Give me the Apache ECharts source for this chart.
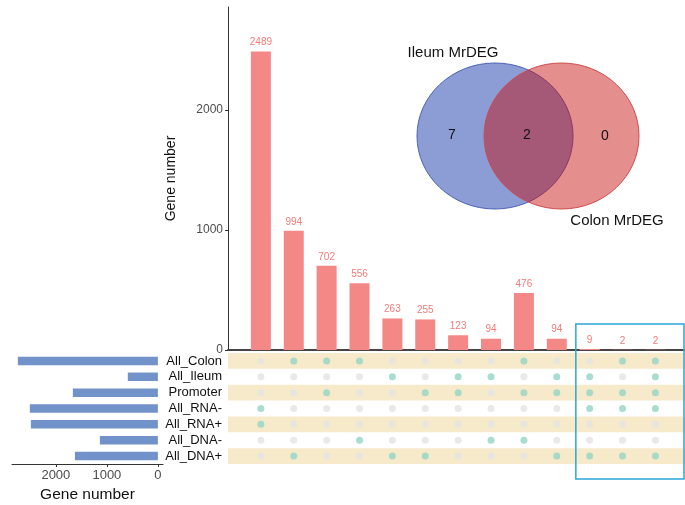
<!DOCTYPE html>
<html>
<head>
<meta charset="utf-8">
<script src="https://cdn.jsdelivr.net/npm/echarts@6/dist/echarts.min.js"></script>
<style>
html,body{margin:0;padding:0;background:#fff}
#main{width:685px;height:505px}
</style>
</head>
<body>
<div id="main"></div>
<script>
var FONT = 'Liberation Sans, Arial, sans-serif';

// sets (rows of the matrix) and their sizes
var setNames = ['All_Colon', 'All_Ileum', 'Promoter', 'All_RNA-', 'All_RNA+', 'All_DNA-', 'All_DNA+'];
var setSizes = [2745, 590, 1667, 2510, 2490, 1137, 1627];
var setTicks = [0, 1000, 2000];

// intersections (columns)
var intersectionSizes = [2489, 994, 702, 556, 263, 255, 123, 94, 476, 94, 9, 2, 2];
var intersectionMembers = [
    ['All_RNA-', 'All_RNA+'],
    ['All_Colon', 'All_DNA+'],
    ['All_Colon', 'Promoter'],
    ['All_Colon', 'All_DNA-'],
    ['All_Ileum', 'All_DNA+'],
    ['Promoter', 'All_DNA+'],
    ['All_Ileum', 'Promoter'],
    ['All_Ileum', 'All_DNA-'],
    ['All_Colon', 'Promoter', 'All_DNA-'],
    ['All_Ileum', 'Promoter', 'All_DNA+'],
    ['All_Ileum', 'Promoter', 'All_RNA-', 'All_DNA+'],
    ['All_Colon', 'Promoter', 'All_RNA-', 'All_DNA+'],
    ['All_Colon', 'All_Ileum', 'Promoter', 'All_RNA-', 'All_DNA+']
];
var countTicks = [0, 1000, 2000];

// venn inset
var vennNames = ['Ileum MrDEG', 'Colon MrDEG'];
var vennCounts = [7, 2, 0]; // ileum only, both, colon only

// striped rows in the matrix
var stripeRows = [1, 0, 1, 0, 1, 0, 1];

var barData = intersectionSizes.map(function (v, i) { return [i, v]; });
var onDots = [], offDots = [];
for (var i = 0; i < intersectionMembers.length; i++) {
    for (var j = 0; j < setNames.length; j++) {
        if (intersectionMembers[i].indexOf(setNames[j]) >= 0) onDots.push([i, setNames[j]]);
        else offDots.push([i, setNames[j]]);
    }
}
var plain = function (v) { return String(v); };

var chart = echarts.init(document.getElementById('main'));
var option = {
    animation: false,
    backgroundColor: '#fff',
    textStyle: { fontFamily: FONT },
    grid: [
        { left: 228, top: 7, width: 457, height: 343 },
        { left: 228, top: 353, width: 457, height: 111 },
        { left: 12, top: 353, width: 151, height: 111 }
    ],
    xAxis: [
        {
            gridIndex: 0, type: 'value', min: -1, max: 12.9,
            axisLine: { show: true, onZero: false, lineStyle: { color: '#444', width: 2 } },
            axisTick: { show: false }, axisLabel: { show: false }, splitLine: { show: false }
        },
        {
            gridIndex: 1, type: 'value', min: -1, max: 12.9, show: false
        },
        {
            gridIndex: 1, type: 'value', min: 0, max: 1, show: false, position: 'top'
        },
        {
            gridIndex: 2, type: 'value', min: -100, max: 2860, inverse: true,
            name: 'Gene number', nameLocation: 'middle', nameGap: 23,
            nameTextStyle: { fontSize: 15.5, color: '#111', fontFamily: FONT },
            axisLine: { show: true, onZero: false, lineStyle: { color: '#333', width: 1 } },
            axisTick: { show: true, length: 3, customValues: setTicks, lineStyle: { color: '#333' } },
            axisLabel: { customValues: setTicks, formatter: plain, fontSize: 13, color: '#4d4d4d', margin: 5, fontFamily: FONT },
            splitLine: { show: false }
        }
    ],
    yAxis: [
        {
            gridIndex: 0, type: 'value', min: 0, max: 2860,
            name: 'Gene number', nameLocation: 'middle', nameGap: 50,
            nameTextStyle: { fontSize: 14, color: '#111', fontFamily: FONT },
            axisLine: { show: true, onZero: false, lineStyle: { color: '#333', width: 1 } },
            axisTick: { show: true, length: 3, customValues: countTicks, lineStyle: { color: '#333' } },
            axisLabel: { customValues: countTicks, formatter: plain, fontSize: 12, color: '#4d4d4d', margin: 5, fontFamily: FONT },
            splitLine: { show: false }
        },
        {
            gridIndex: 1, type: 'category', data: setNames, inverse: true,
            axisLine: { show: false }, axisTick: { show: false },
            axisLabel: { interval: 0, fontSize: 13, color: '#111', margin: 6, fontFamily: FONT }
        },
        {
            gridIndex: 2, type: 'category', data: setNames, inverse: true, show: false
        }
    ],
    series: [
        {
            type: 'bar', xAxisIndex: 0, yAxisIndex: 0, data: barData, barWidth: 20,
            itemStyle: { color: '#f48886' },
            label: { show: true, position: 'top', distance: 4, fontSize: 10, color: '#f27c7a', fontFamily: FONT,
                formatter: function (p) { return p.value[1]; } }
        },
        {
            type: 'bar', xAxisIndex: 2, yAxisIndex: 1, data: stripeRows, barWidth: '100%',
            itemStyle: { color: '#f7eacb' }, silent: true, z: 1
        },
        {
            type: 'scatter', xAxisIndex: 1, yAxisIndex: 1, data: offDots, symbolSize: 7,
            itemStyle: { color: '#e3e3e3' }, z: 3
        },
        {
            type: 'scatter', xAxisIndex: 1, yAxisIndex: 1, data: onDots, symbolSize: 7,
            itemStyle: { color: '#93d5c6' }, z: 4
        },
        {
            type: 'bar', xAxisIndex: 3, yAxisIndex: 2, data: setSizes, barWidth: 8.5,
            itemStyle: { color: '#7293ca' }
        }
    ]
};
chart.setOption(option);

// venn inset + highlight box
var boxLeft = chart.convertToPixel({ xAxisIndex: 1 }, 9.58);
chart.setOption({
    graphic: [
        { type: 'ellipse', shape: { cx: 495, cy: 136, rx: 78, ry: 73 },
          style: { fill: '#8b9dd4', stroke: '#4b62b6', lineWidth: 1 }, z: 10 },
        { type: 'ellipse', shape: { cx: 561.5, cy: 136, rx: 77.5, ry: 73 },
          style: { fill: 'rgba(196,8,8,0.46)', stroke: '#cf4a4a', lineWidth: 1 }, z: 11 },
        { type: 'text', x: 453, y: 53, z: 12,
          style: { text: vennNames[0], fontSize: 15, fontFamily: FONT, fill: '#111', align: 'center', verticalAlign: 'middle' } },
        { type: 'text', x: 617, y: 221, z: 12,
          style: { text: vennNames[1], fontSize: 15, fontFamily: FONT, fill: '#111', align: 'center', verticalAlign: 'middle' } },
        { type: 'text', x: 452, y: 135, z: 12,
          style: { text: String(vennCounts[0]), fontSize: 14, fontFamily: FONT, fill: '#111', align: 'center', verticalAlign: 'middle' } },
        { type: 'text', x: 527, y: 135, z: 12,
          style: { text: String(vennCounts[1]), fontSize: 14, fontFamily: FONT, fill: '#111', align: 'center', verticalAlign: 'middle' } },
        { type: 'text', x: 605, y: 136, z: 12,
          style: { text: String(vennCounts[2]), fontSize: 14, fontFamily: FONT, fill: '#111', align: 'center', verticalAlign: 'middle' } },
        { type: 'rect', shape: { x: boxLeft, y: 324, width: 684 - boxLeft, height: 155 },
          style: { fill: 'none', stroke: '#2aa6d6', lineWidth: 1.5 }, z: 12 }
    ]
});
</script>
</body>
</html>
